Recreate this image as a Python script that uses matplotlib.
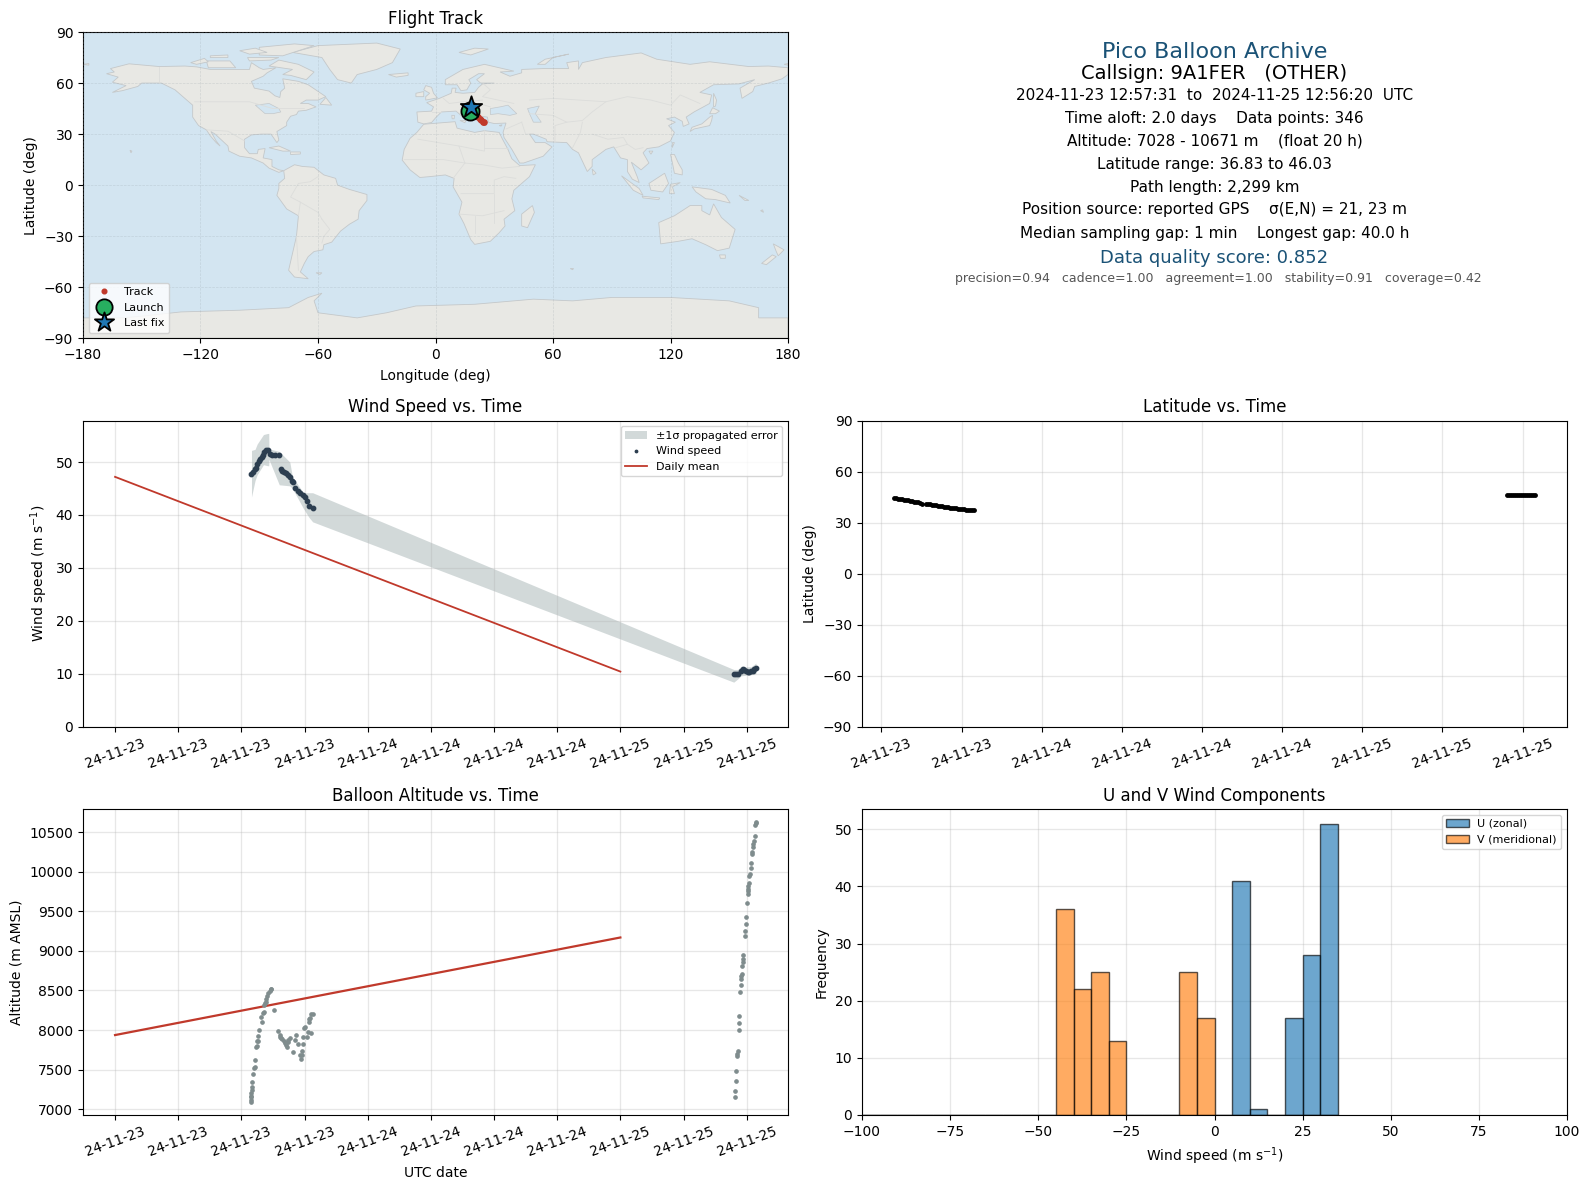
import numpy as np
import pandas as pd
import matplotlib
matplotlib.use("Agg")
import matplotlib.pyplot as plt
import matplotlib.dates as mdates

W, H = 1589, 1189

t0 = pd.Timestamp("2024-11-23 00:00:00")

# all times are hours after t0
wind_t = [12.96,13.09,13.28,13.41,13.53,13.66,13.79,13.92,14.04,14.17,14.36,14.56,14.68,14.94,15.19,15.58,
          15.74,15.9,16.09,16.28,16.47,16.66,16.79,16.86,17.05,17.34,17.56,17.88,18.07,18.2,18.45,18.77,
          58.77,58.96,59.15,59.46,59.62,59.78,59.94,60.09,60.25,60.41,60.57,60.73,60.88]
wind_v = [47.8,48.1,48.6,48.9,49.7,50.2,50.6,50.9,51.4,51.9,52.3,52.2,51.6,51.4,51.3,51.3,
          48.6,48.4,48.2,47.9,47.5,47.2,46.5,46.3,45.0,44.6,44.2,43.8,43.3,42.6,41.7,41.4,
          9.9,9.9,9.9,10.6,10.8,10.7,10.6,10.3,10.4,10.5,10.6,10.8,11.0]

band_t = [12.96,13.3,13.5,14.1,14.5,14.6,14.62,15.6,16.6,16.85,17.9,18.4,18.77,58.77,59.15,59.46,59.94,60.41,60.88]
band_lo = [43.4,46.5,47.6,49.5,49.3,49.3,50.5,45.7,45.5,45.0,41.2,39.6,38.7,8.4,9.0,9.6,9.7,9.8,10.0]
band_hi = [52.2,52.4,53.4,55.2,55.4,55.4,52.5,52.0,50.0,47.2,44.2,44.2,44.2,10.8,10.8,11.4,11.3,11.3,12.0]

wind_mean_t = [0, 48]
wind_mean_v = [47.2, 10.4]

alt_t = [12.93,12.94,12.95,12.96,12.96,13.02,13.02,13.05,13.09,13.21,13.31,13.31,13.41,13.5,13.5,13.6,13.6,13.69,
         13.92,13.82,14.04,14.11,14.17,14.24,14.3,14.36,14.46,14.56,14.68,14.78,14.84,15.13,
         15.51,15.64,15.67,15.77,15.9,16.03,16.15,16.28,16.41,16.47,16.6,16.35,16.86,17.11,17.18,17.34,17.56,
         17.75,17.62,17.75,17.81,17.88,17.97,18.07,18.2,18.29,18.39,18.45,18.55,18.61,18.65,18.77,
         58.86,58.86,58.96,58.96,59.05,59.08,59.15,59.24,59.24,59.24,59.34,59.43,59.46,59.49,59.53,59.56,59.62,
         59.62,59.62,59.81,59.81,59.91,59.91,60,60.09,60.09,60.09,60.13,60.19,60.22,60.32,60.38,60.38,60.47,
         60.51,60.57,60.63,60.66,60.76,60.79,60.85,60.88]
alt_v = [7090,7120,7156,7198,7170,7240,7274,7346,7439,7515,7527,7616,7781,7797,7857,7857,7920,7996,
         8105,8160,8211,8232,8316,8338,8359,8388,8430,8464,8498,8515,8519,8249,
         7992,7937,7907,7895,7882,7861,7831,7810,7852,7873,7895,7781,7717,7873,7937,7823,7684,
         7684,7633,7738,7823,7907,8021,8042,7916,7979,8105,8135,8148,8203,7966,8203,
         7152,7228,7354,7481,7675,7696,7738,8000,8089,8177,8481,8570,8646,8679,8705,8810,8861,
         8903,8954,9190,9253,9342,9431,9608,9726,9755,9785,9815,9861,9950,9975,10047,10114,10228,
         10249,10313,10355,10384,10448,10587,10616,10625]

alt_mean_t = [0, 48]
alt_mean_v = [7936, 9170]

lat_t = [12.95,13.1,13.25,13.4,13.55,13.7,13.85,14.0,14.15,14.3,14.45,14.6,14.75,14.9,15.07,15.35,15.5,15.65,
         15.8,15.95,16.1,16.25,16.4,16.55,16.7,16.85,17.0,17.15,17.3,17.45,17.6,17.75,17.9,18.05,18.2,18.35,18.5,18.65,18.8,18.9,
         58.8,58.95,59.1,59.25,59.4,59.55,59.7,59.85,60.0,60.15,60.3,60.45,60.6,60.75,60.93]
lat_v = [44.45,44.2,44.0,43.9,43.6,43.4,43.1,43.0,42.7,42.5,42.2,42.0,41.8,41.6,40.9,41.1,40.9,40.7,
         40.5,40.3,40.1,39.9,39.7,39.5,39.3,39.2,39.0,38.8,38.6,38.4,38.3,38.1,37.9,37.8,37.7,37.5,37.4,37.3,37.2,37.15,
         46.0,46.0,46.02,46.0,46.03,46.0,46.01,46.02,46.0,46.0,46.03,46.01,46.0,46.0,46.0]

track_lon = [17.8,18.6,19.4,20.2,21.0,21.8,22.6,23.4,24.2,24.8,17.9,17.9]
track_lat = [44.4,43.5,42.6,41.7,40.9,40.0,39.1,38.2,37.3,36.83,46.0,46.03]
launch_lon, launch_lat = 17.6, 43.6
last_lon, last_lat = 18.0, 45.7

hist_left = [-100,-95,-90,-85,-80,-75,-70,-65,-60,-55,-50,-45,-40,-35,-30,-25,-20,-15,-10,-5,0,5,10,15,20,25,30]
u_counts = [0,0,0,0,0,0,0,0,0,0,0,0,0,0,0,0,0,0,0,0,0,41,1,0,17,28,51]
v_counts = [0,0,0,0,0,0,0,0,0,0,0,36,22,25,13,0,0,0,25,17,0,0,0,0,0,0,0]

info_text = [
    "Pico Balloon Archive",
    "Callsign: 9A1FER   (OTHER)",
    "2024-11-23 12:57:31  to  2024-11-25 12:56:20  UTC",
    "Time aloft: 2.0 days    Data points: 346",
    "Altitude: 7028 - 10671 m    (float 20 h)",
    "Latitude range: 36.83 to 46.03",
    "Path length: 2,299 km",
    "Position source: reported GPS    \u03c3(E,N) = 21, 23 m",
    "Median sampling gap: 1 min    Longest gap: 40.0 h",
    "Data quality score: 0.852",
    "precision=0.94   cadence=1.00   agreement=1.00   stability=0.91   coverage=0.42",
]
info_y = [51, 73, 94, 117, 139, 162, 185, 207, 230, 255, 275]
info_size = [16, 14, 11, 11, 11, 11, 11, 11, 11, 13, 9]
info_colour = ["#1a5276", "black", "black", "black", "black", "black", "black", "black", "black", "#1a5276", "#555555"]

# rough coastlines, lon/lat
north_america = [(-168,65.5),(-164,66.5),(-166,68.5),(-156.5,71.3),(-141,69.7),(-128,70),(-122,69.5),(-115,68),(-108,68),(-102,68),(-95,68),(-94,72),(-90,69),(-88,68),
    (-81.5,69),(-86,66),(-88,64),(-94,61),(-92.5,57),(-85,55.3),(-82,52.5),(-79.5,51.5),(-79,55),(-77,57),(-78,62.5),(-70,61),(-65,59),
    (-60.5,55.5),(-56,52),(-60,50),(-66,50),(-69,48),(-65,48),(-61,46),(-66,44),(-70,43.5),(-71,41.5),(-74,40.5),(-76,37),(-76,35),
    (-81,31.5),(-80,26.5),(-81,25),(-82.8,28),(-84,30),(-89,30),(-94,29.5),(-97.5,27),(-97.5,22),(-95,18.5),(-91,18.5),(-90.5,21),
    (-87,21.5),(-88,16),(-83.5,15),(-83.5,11),(-80,9),(-77.5,8.5),(-80,7.5),(-85,10),(-88,13),(-94,16),(-100,17),(-105.5,20),
    (-106,23),(-112.5,30),(-114.7,31.5),(-112,26),(-110,23),(-112,25),(-115,29),(-117,32.5),(-121,35),(-124,40),(-124,47),
    (-128,51),(-133,56),(-140,60),(-150,60),(-152,58),(-160,55.5),(-165,54.5),(-158,58.5),(-165,60.5),(-162,63.5)]
south_america = [(-77.5,8.5),(-72,12),(-68,11),(-62,10.5),(-57,6),(-51,4),(-50,0),(-44,-2.5),(-35,-5.5),(-35,-9),(-39,-15),
    (-39.5,-20),(-44,-23),(-48.5,-27),(-53,-33.5),(-57,-35),(-57.5,-38),(-62,-39),(-65,-42),(-67,-46),(-69,-51),(-65,-55),
    (-72,-54),(-75,-50),(-73,-40),(-71,-30),(-70,-18),(-76,-14),(-81,-6),(-80,-2),(-80,1),(-77,4)]
africa = [(-6,35.8),(10,37.3),(11,33.5),(20,31),(25,32),(32.5,31),(34,27.5),(37,21),(39,15.5),(43,11.5),(51,12),(48,5),(40,-3),
    (39,-8),(40.5,-15),(35,-20),(35.5,-24),(32.5,-28),(28,-33),(20,-34.8),(18,-32),(14.5,-22.5),(12,-17),(13.5,-10),(9,-1),
    (9.5,4),(5,6),(-3,5),(-8,4.5),(-13,9),(-17,14.7),(-16,21),(-13,27.5),(-9.5,31)]
eurasia = [(-9,37),(-9.5,43),(-2,43.5),(-1,46),(-4.5,48.5),(2,51),(8,54),(8.5,57),(10.5,57),(10,54.5),(14,54),(20,54.5),(22,57.5),
    (24,59.5),(30,60),(23,60),(21,62),(25,65.5),(22,65.5),(17,62),(18,60),(16,56),(13,55.5),(11,59),(5,59),(5,62),(14,68),(25,71),
    (40,67),(33,66.5),(38,64),(44,66),(44,68),(55,68.5),(68,68.5),(67,72),(73,73),(73,68),(75,72),(87,75),(105,77.7),(113,74),
    (130,71),(140,72.5),(160,69.7),(170,70),(180,69),(180,65),(177,62.5),(170,60),(163,58),(162,55),(156.5,51),(155.5,57),
    (163,62),(155,59.5),(142,59),(135,54.5),(141,53),(140,48),(132,43),(128,40),(129.5,36),(126.5,34.5),(126,37.5),(122,40),
    (118,39),(122.5,37),(119,35),(122,31),(120,26),(114,22.5),(108,21.5),(106,19),(109,13),(105,9),(100,13.5),(103,5),(104,1.5),
    (100.5,3.5),(98,8),(98,15),(94.5,16),(91,22.5),(87,21),(80,15),(80,11),(77.5,8),(73,19),(70,21),(67,25),(57,25.5),(56.5,27),
    (50,30),(48,30),(51,25),(56,25),(59.5,22.5),(55,17),(45,13),(43,13),(39,21),(35,28),(34.5,31),(36,36.5),(30,36.2),(27,37),
    (26.5,40),(23,40.5),(22.5,37),(19.5,41),(13,45.7),(18,40),(16,38),(10.5,43.5),(3,43),(0,39.5),(-2,36.8),(-6,36)]
antarctica = [(-180,-78),(-160,-78),(-150,-77),(-130,-74.5),(-100,-73.5),(-75,-72),(-65,-66),(-58,-63.5),(-62,-68),(-60,-75),
    (-40,-78),(-25,-75),(-10,-71),(20,-70),(50,-67),(70,-68),(90,-66),(120,-66),(150,-68),(165,-72),(165,-78),(180,-78),(180,-90),(-180,-90)]
greenland = [(-73,78),(-60,82),(-30,83.5),(-18,80),(-22,72),(-30,68),(-40,65),(-43,60),(-50,62),(-54,68),(-58,75)]
australia = [(114,-22),(122,-18),(130,-12),(136,-12),(136,-15),(140,-17.5),(142,-11),(146,-19),(153,-26),(150,-37),(144,-38.5),
    (138,-35),(131,-31.5),(124,-33),(115,-34.5)]
islands = [
    [(49.5,-12),(50.5,-16),(47,-25),(44,-24),(44,-17)],
    [(-5,50),(1,51.3),(-1,54),(-2,57.5),(-5,58.5),(-6,56),(-3,54),(-5,52)],
    [(-10,52),(-6,52),(-6,55),(-10,54)],
    [(-24,65),(-14,66),(-14,64.5),(-20,63.5)],
    [(130,31.5),(131,34),(136,36),(140,40),(141.5,41),(141,38),(140,35),(136,34),(132,33)],
    [(140,42),(141.5,45.5),(145,43.5),(143,42)],
    [(142,46),(142,54),(143.5,50),(143,46.5)],
    [(109,1),(117,7),(119,1),(116,-4),(110,-3)],
    [(95,5.5),(104,-2),(106,-6),(101,-3)],
    [(105.5,-6.5),(114.5,-7.5),(114,-8.5),(106,-7.5)],
    [(119.5,-5),(120,0.5),(125,1.5),(121,-1),(122,-5)],
    [(131,-1),(141,-2.5),(148,-6),(150.5,-10.5),(143,-8.5),(138,-8),(133,-4)],
    [(120,18),(122,18),(124,13),(126,9),(126,6),(122,7),(121,13)],
    [(172.5,-34.5),(178,-38),(175,-41.5),(174,-39)],
    [(172,-41),(174,-42),(169,-46.7),(166.5,-46)],
    [(80,9.5),(82,7),(80.5,6)],
    [(-85,22),(-80,23),(-74,20),(-78,20)],
    [(-74,19.5),(-69,19.5),(-69,18.3),(-74,18)],
    [(-80,73.5),(-70,71),(-62,66.5),(-66,62),(-74,64.5),(-78,65),(-73,68),(-85,70)],
    [(-117,73),(-105,73),(-102,69),(-116,69)],
    [(-90,76.5),(-78,76),(-62,82),(-72,83),(-90,81)],
    [(-125,72),(-118,74.5),(-116,72.5),(-122,71)],
    [(-96,75),(-80,75),(-84,73.5),(-95,73)],
    [(-59,47.5),(-56,51.5),(-53,47)],
    [(12,78),(20,80.5),(27,80),(18,76.5)],
    [(52,71),(56,74),(68,77),(60,75),(56,71)],
    [(12.5,38),(15.5,38),(15,36.7)],
    [(8.3,41),(9.7,41),(9.5,39),(8.5,39)],
    [(121,25),(122,25),(120.8,22)],
    [(109,20),(111,20),(110,18.2)],
    [(-61,-51.5),(-58,-51.5),(-59,-52.5)],
    [(68.8,-49),(70.5,-49),(70,-49.7)],
    [(-180,71),(-177,71.5),(-177,70.5)],
    [(178,71),(180,71.5),(180,70.5)],
    [(-115,76),(-106,76.5),(-106,75),(-115,75)],
    [(-100,79),(-92,80.5),(-86,78),(-95,77)],
    [(-156,20.5),(-155,20),(-155.5,19)],
    [(24,35.4),(26,35.3),(25,35)],
    [(32.5,35),(34,35.5),(33.5,34.7)],
    [(148,-41),(148,-43),(145.5,-43),(145,-41)],
    [(155,-6),(160,-9),(158,-9)],
    [(166,-15),(167.5,-16),(167,-14.5)],
]
inland_water = [
    [(28,41.5),(28,45),(33,46),(37,47),(41.5,42),(38,41),(32,42)],
    [(47,45),(53,46.5),(51,42),(54,37),(50,37),(48,42)],
    [(-92,47),(-85,48),(-80,45),(-79,43),(-83,42),(-87,42)],
]
borders = [
    [(-123,49),(-95,49),(-83,45),(-75,45),(-67,45)], [(-141,69.7),(-141,60)],
    [(-117,32.5),(-106,31.7),(-97.5,26)], [(-70,-18),(-69,-10),(-74,-7),(-70,1),(-64,2),(-60,5)],
    [(-58,-20),(-60,-16),(-69,-10)], [(-71,-30),(-70,-50)], [(-58,-34),(-57,-30),(-54,-26),(-58,-20)],
    [(12,23),(25,20),(25,32)], [(25,22),(37,22)], [(-9,27),(12,23),(15,13),(24,12),(34,10),(43,11)],
    [(-16,15),(4,15),(15,13)], [(9,4),(15,13)], [(13,-5),(30,-5),(30,3),(35,5),(41,4)],
    [(12,-17),(24,-18),(35,-15)], [(20,-28),(20,-18)], [(30,-5),(30,-22)],
    [(24,60),(28,56),(24,52),(40,48)], [(4,51),(7,48),(14,49),(24,50)], [(-2,43),(3,43)],
    [(14,46),(22,48),(28,46)], [(48,42),(60,41),(67,37),(75,38),(80,43),(87,49),(60,51),(48,50)],
    [(87,49),(98,52),(110,50),(120,47),(125,53),(135,48)], [(75,37),(74,31),(70,22)], [(80,30),(88,27),(96,28),(98,24),(92,22)],
    [(98,24),(102,21),(106,22)], [(61,25),(61,35),(67,37)], [(44,37),(46,30),(48,30)], [(36,33),(44,37)],
]

land_colour = "#e8e8e4"
land_edge = "#c4c8ca"
ocean_colour = "#d3e5f1"
red = "#c0392b"


def add_axes(left, top, right, bottom):
    return fig.add_axes([left/W, 1-bottom/H, (right-left)/W, (bottom-top)/H])


def to_dates(hours):
    return t0 + pd.to_timedelta(np.array(hours, dtype=float), unit="h")


def fmt_time(ax):
    ax.xaxis.set_major_locator(mdates.HourLocator(byhour=[0, 6, 12, 18]))
    ax.xaxis.set_major_formatter(mdates.DateFormatter("%y-%m-%d"))
    ax.tick_params(axis="x", rotation=20)
    ax.grid(True, color="#b0b0b0", alpha=0.3, lw=0.9)


fig = plt.figure(figsize=(W/100, H/100), dpi=100)

# map
ax = add_axes(83, 32, 788, 338.3)
ax.set_facecolor(ocean_colour)
for poly in [north_america, south_america, africa, eurasia, antarctica, greenland, australia] + islands:
    xy = np.array(poly)
    ax.fill(xy[:, 0], xy[:, 1], facecolor=land_colour, edgecolor=land_edge, lw=0.6, zorder=1)
for poly in inland_water:
    xy = np.array(poly)
    ax.fill(xy[:, 0], xy[:, 1], facecolor=ocean_colour, edgecolor=land_edge, lw=0.5, zorder=1.1)
for line in borders:
    xy = np.array(line)
    ax.plot(xy[:, 0], xy[:, 1], color="#dcdddb", lw=0.6, zorder=1.2)
ax.grid(True, color="#9aa5ab", alpha=0.3, lw=0.5, ls="--", zorder=1.5)
ax.set_axisbelow(False)
ax.scatter(track_lon, track_lat, s=14, color=red, zorder=3, label="Track")
ax.scatter([launch_lon], [launch_lat], s=170, color="#27ae60", edgecolor="black", lw=1.3, zorder=4, label="Launch")
ax.scatter([last_lon], [last_lat], s=260, marker="*", color="#1f77b4", edgecolor="black", lw=1.3, zorder=5, label="Last fix")
ax.set_xlim(-180, 180)
ax.set_ylim(-90, 90)
ax.set_xticks(np.arange(-180, 181, 60))
ax.set_yticks(np.arange(-90, 91, 30))
ax.set_xlabel("Longitude (deg)", labelpad=5)
ax.set_ylabel("Latitude (deg)")
ax.set_title("Flight Track")
ax.legend(loc="lower left", fontsize=8, framealpha=0.8, labelspacing=0.5, scatteryoffsets=[0.5], borderaxespad=0.5, markerscale=0.9)

# info panel
for i, txt in enumerate(info_text):
    x = 1218.5 if i == len(info_text) - 1 else 1214.5
    fig.text(x/W, 1-info_y[i]*1.0134/H, txt, ha="center", va="center", fontsize=info_size[i], color=info_colour[i])

# wind speed
ax = add_axes(83, 420.5, 788, 726.6)
ax.fill_between(to_dates(band_t), band_lo, band_hi, color="#95a5a6", alpha=0.42, lw=0, label="\u00b11\u03c3 propagated error")
ax.scatter(to_dates(wind_t), wind_v, s=10, color="#2c3e50", zorder=3, label="Wind speed")
ax.plot(to_dates(wind_mean_t), wind_mean_v, color=red, lw=1.3, label="Daily mean")
ax.set_ylim(0, 57.85)
ax.set_ylabel("Wind speed (m s$^{-1}$)")
ax.set_title("Wind Speed vs. Time")
fmt_time(ax)
ax.legend(loc="upper right", fontsize=8, markerscale=0.55)

# latitude
ax = add_axes(862, 420.5, 1567, 726.6)
ax.scatter(to_dates(lat_t), lat_v, s=6, color="black", zorder=3)
ax.set_ylim(-90, 90)
ax.set_yticks(np.arange(-90, 91, 30))
ax.set_ylabel("Latitude (deg)")
ax.set_title("Latitude vs. Time")
fmt_time(ax)

# altitude
ax = add_axes(83, 809, 788, 1115)
ax.scatter(to_dates(alt_t), alt_v, s=5.5, color="#7f8c8d", zorder=3)
ax.plot(to_dates(alt_mean_t), alt_mean_v, color=red, lw=1.6)
ax.set_ylim(6925, 10795)
ax.set_ylabel("Altitude (m AMSL)")
ax.set_xlabel("UTC date", labelpad=5)
ax.set_title("Balloon Altitude vs. Time")
fmt_time(ax)

# wind components
ax = add_axes(862, 809, 1567, 1115)
ax.bar(hist_left, u_counts, width=5, align="edge", color="#1f77b4", alpha=0.65, edgecolor="black", lw=1.0, label="U (zonal)", zorder=2)
ax.bar(hist_left, v_counts, width=5, align="edge", color="#ff7f0e", alpha=0.65, edgecolor="black", lw=1.0, label="V (meridional)", zorder=2)
ax.set_xlim(-100, 100)
ax.set_ylim(0, 53.55)
ax.set_xticks(np.arange(-100, 101, 25))
ax.grid(True, color="#b0b0b0", alpha=0.3, lw=0.9)
ax.set_xlabel("Wind speed (m s$^{-1}$)", labelpad=5)
ax.set_ylabel("Frequency")
ax.set_title("U and V Wind Components")
ax.legend(loc="upper right", fontsize=8)

fig.savefig("out.png", dpi=100)
